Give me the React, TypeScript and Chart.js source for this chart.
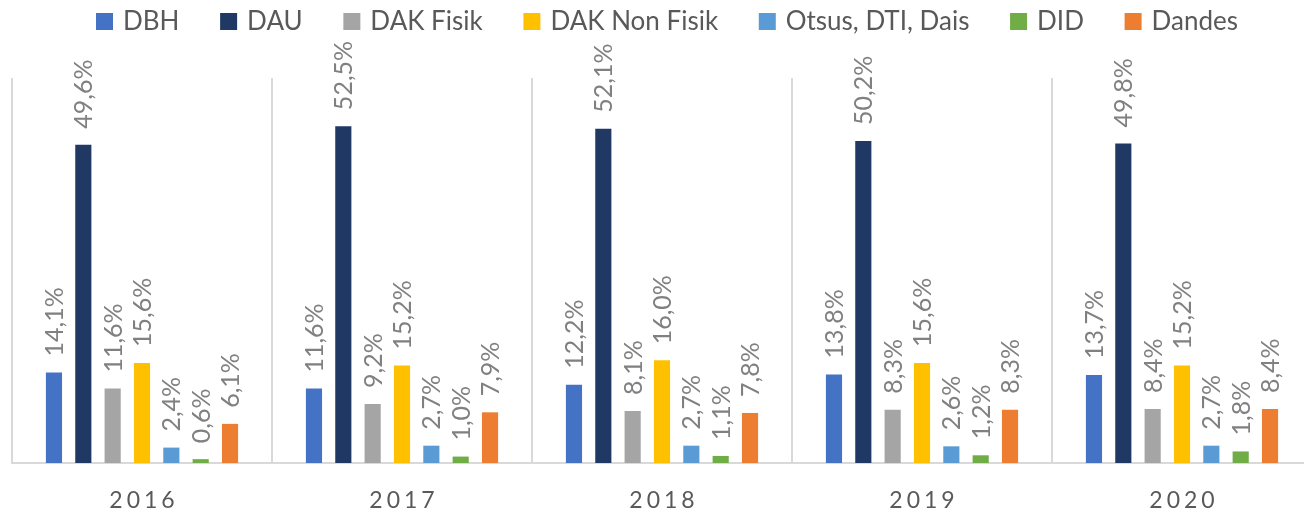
import React, { useEffect, useRef } from 'react';
import { Chart, registerables } from 'chart.js';

Chart.register(...registerables);

const categories = ['2016', '2017', '2018', '2019', '2020'];
const seriesNames = ['DBH', 'DAU', 'DAK Fisik', 'DAK Non Fisik', 'Otsus, DTI, Dais', 'DID', 'Dandes'];
const dbh = [14.1, 11.6, 12.2, 13.8, 13.7];
const dau = [49.6, 52.5, 52.1, 50.2, 49.8];
const dakFisik = [11.6, 9.2, 8.1, 8.3, 8.4];
const dakNonFisik = [15.6, 15.2, 16.0, 15.6, 15.2];
const otsus = [2.4, 2.7, 2.7, 2.6, 2.7];
const did = [0.6, 1.0, 1.1, 1.2, 1.8];
const dandes = [6.1, 7.9, 7.8, 8.3, 8.4];
const seriesColors = ['#4472C4', '#203864', '#A5A5A5', '#FFC000', '#5B9BD5', '#70AD47', '#ED7D31'];
const yMax = 60;

const FONT = 'Lato, "Open Sans", sans-serif';

const fmt = (v: number) => v.toFixed(1).replace('.', ',') + '%';

const decorPlugin = {
  id: 'decor',
  afterDatasetsDraw(chart: any) {
    const ctx = chart.ctx as CanvasRenderingContext2D;
    // data labels
    ctx.save();
    ctx.font = `25px ${FONT}`;
    ctx.fillStyle = '#808080';
    ctx.textAlign = 'left';
    ctx.textBaseline = 'alphabetic';
    chart.data.datasets.forEach((ds: any, di: number) => {
      const meta = chart.getDatasetMeta(di);
      meta.data.forEach((el: any, i: number) => {
        const v = ds.data[i];
        ctx.save();
        ctx.translate(el.x + 9, el.y - 16);
        ctx.rotate(-Math.PI / 2);
        ctx.fillText(fmt(v), 0, 0);
        ctx.restore();
      });
    });
    ctx.restore();

    // x tick labels
    const xs = chart.scales.x;
    ctx.save();
    ctx.font = `23px ${FONT}`;
    ctx.fillStyle = '#595959';
    ctx.textAlign = 'center';
    ctx.textBaseline = 'alphabetic';
    (ctx as any).letterSpacing = '4px';
    categories.forEach((c, i) => {
      const x = xs.getPixelForTick(i);
      ctx.fillText(c, x + 2, 508);
    });
    ctx.restore();

    // legend
    ctx.save();
    ctx.font = `26px ${FONT}`;
    ctx.textBaseline = 'alphabetic';
    ctx.textAlign = 'left';
    const box = 17;
    const boxGap = 10;
    const widths = seriesNames.map((n) => box + boxGap + ctx.measureText(n).width);
    const span = 1142;
    const sum = widths.reduce((a, b) => a + b, 0);
    const gap = (span - sum) / (seriesNames.length - 1);
    let x = 96;
    seriesNames.forEach((n, i) => {
      ctx.fillStyle = seriesColors[i];
      ctx.fillRect(x, 13, box, box);
      ctx.fillStyle = '#595959';
      ctx.fillText(n, x + box + boxGap, 30);
      x += widths[i] + gap;
    });
    ctx.restore();
  },
};

export default function App() {
  const ref = useRef<HTMLCanvasElement | null>(null);

  useEffect(() => {
    if (!ref.current) return;
    const seriesData = [dbh, dau, dakFisik, dakNonFisik, otsus, did, dandes];
    const chart = new Chart(ref.current, {
      type: 'bar',
      data: {
        labels: categories,
        datasets: seriesNames.map((name, i) => ({
          label: name,
          data: seriesData[i],
          backgroundColor: seriesColors[i],
          borderWidth: 0,
          categoryPercentage: 0.79,
          barPercentage: 0.55,
        })),
      },
      options: {
        animation: false,
        responsive: false,
        maintainAspectRatio: false,
        devicePixelRatio: 1,
        layout: { padding: { top: 78, left: 12, right: 8, bottom: 0 } },
        plugins: {
          legend: { display: false },
          tooltip: { enabled: false },
          title: { display: false },
        },
        scales: {
          x: {
            grid: { color: '#d9d9d9', lineWidth: 2, drawTicks: false, offset: true },
            border: { color: '#d9d9d9', width: 2 },
            ticks: { display: false },
            afterFit: (s: any) => {
              s.height = 50;
            },
          },
          y: { display: false, min: 0, max: yMax },
        },
      } as any,
      plugins: [decorPlugin],
    });
    return () => chart.destroy();
  }, []);

  return (
    <div
      style={{
        position: 'fixed',
        left: 0,
        top: 0,
        width: 1304,
        height: 513,
        overflow: 'hidden',
        background: '#ffffff',
      }}
    >
      <canvas ref={ref} width={1320} height={513} style={{ display: 'block', width: 1320, height: 513 }} />
    </div>
  );
}
